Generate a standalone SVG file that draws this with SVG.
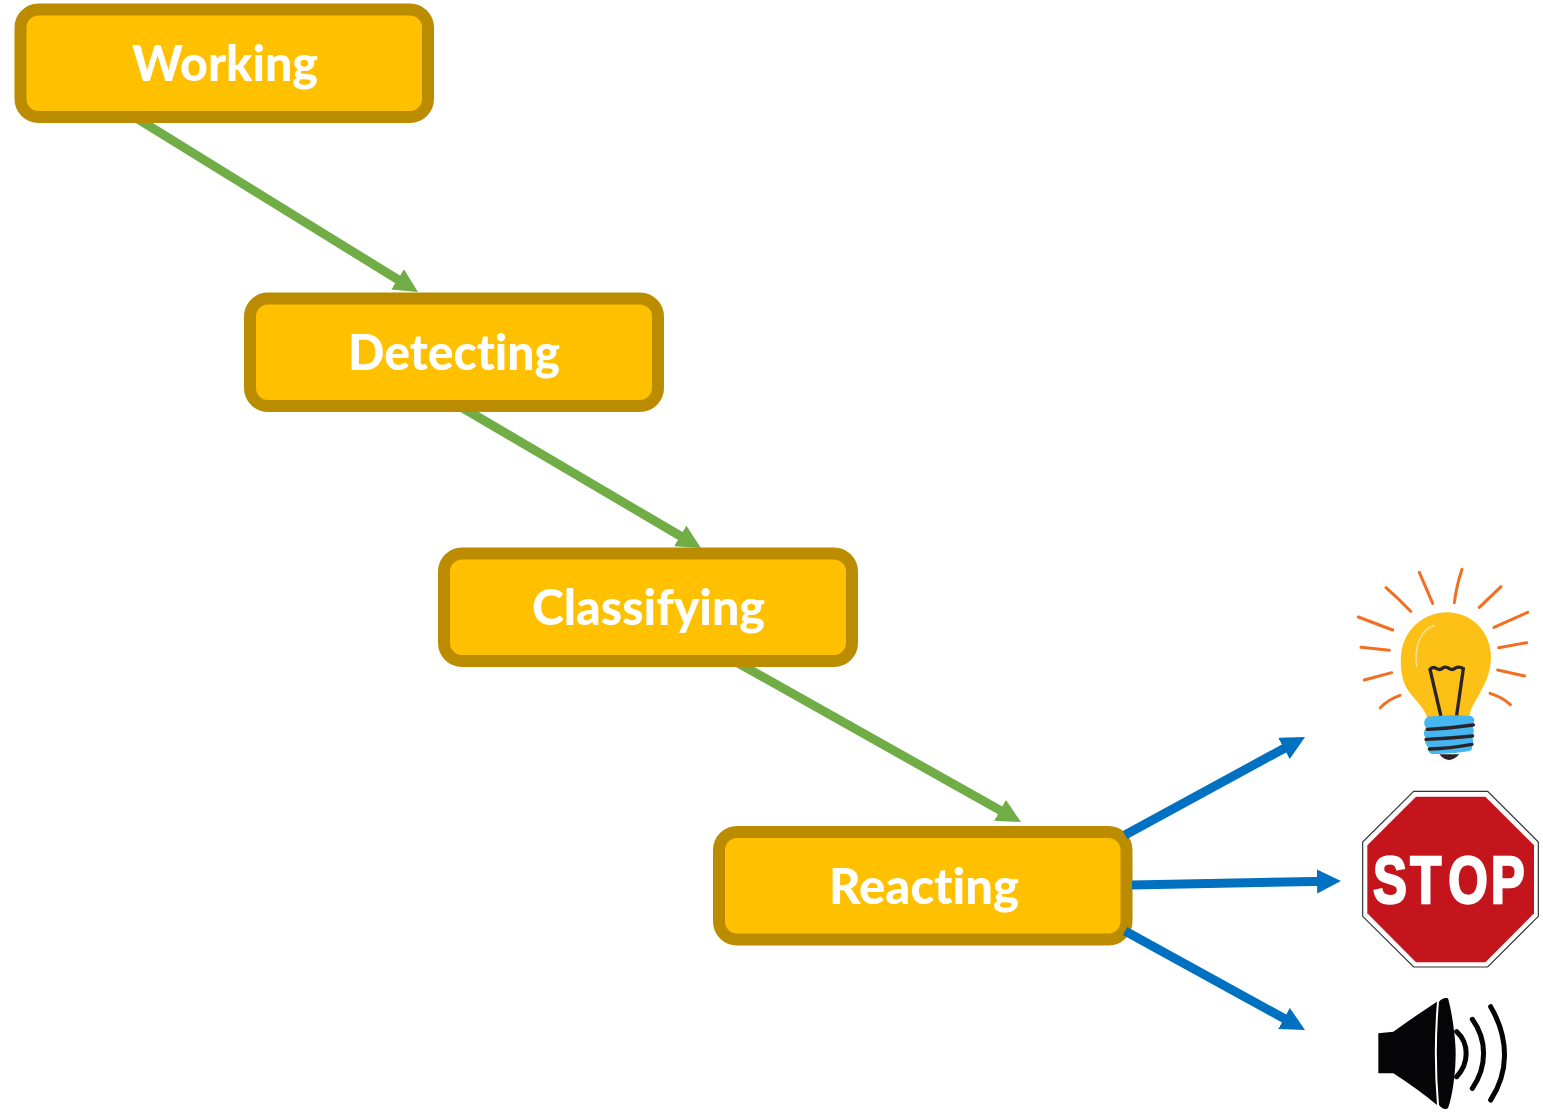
<svg xmlns="http://www.w3.org/2000/svg" width="1543" height="1112" viewBox="0 0 1543 1112">
<style>
.box{fill:#ffc000;stroke:#bc8c00;stroke-width:12}
.lbl{font-family:"Lato","Open Sans",sans-serif;font-weight:900;font-size:49px;fill:#fff;text-anchor:middle;font-variant-ligatures:none}
.g{fill:none;stroke:#70ad47;stroke-width:9;marker-end:url(#gh)}
.b{fill:none;stroke:#0070c0;stroke-width:9;marker-end:url(#bh)}
.ray{fill:none;stroke:#f26f21;stroke-width:9;stroke-linecap:round}
.dark{fill:none;stroke:#2b2326;stroke-linecap:round}
.wave{fill:none;stroke:#050507;stroke-width:15;stroke-linecap:round}
</style>
<defs>
<marker id="gh" markerUnits="userSpaceOnUse" markerWidth="26" markerHeight="26" refX="12" refY="12" orient="auto"><path d="M0,0L24,12L0,24Z" fill="#70ad47"/></marker>
<marker id="bh" markerUnits="userSpaceOnUse" markerWidth="26" markerHeight="26" refX="12" refY="12" orient="auto"><path d="M0,0L24,12L0,24Z" fill="#0070c0"/></marker>
<clipPath id="gaps"><rect x="0" y="123" width="1543" height="169"/><rect x="0" y="412" width="1543" height="136"/><rect x="0" y="667" width="1543" height="159"/></clipPath>
</defs>
<rect width="1543" height="1112" fill="#fff"/>
<g id="node-working"><rect class="box" x="20.500" y="9.500" width="407.500" height="107.500" rx="18"/><text class="lbl" x="225" y="81" textLength="186" lengthAdjust="spacingAndGlyphs">Working</text></g>
<g id="node-detecting"><rect class="box" x="250" y="298.500" width="408" height="107.500" rx="18"/><text class="lbl" x="454" y="370" textLength="212" lengthAdjust="spacingAndGlyphs">Detecting</text></g>
<g id="node-classifying"><rect class="box" x="444" y="553.500" width="408" height="107.500" rx="18"/><text class="lbl" x="648.500" y="625" textLength="233" lengthAdjust="spacingAndGlyphs">Classifying</text></g>
<g id="node-reacting"><rect class="box" x="719" y="832" width="407.500" height="107.500" rx="18"/><text class="lbl" x="924" y="904" textLength="190" lengthAdjust="spacingAndGlyphs">Reacting</text></g>
<g id="connectors">
<g clip-path="url(#gaps)">
<path class="g" d="M133,116L407.800,285.700"/>
<path class="g" d="M456,404L690.600,542"/>
<path class="g" d="M731,659L1010.500,816.200"/>
</g>
<path class="b" d="M1125,835L1294.500,742.700"/>
<path class="b" d="M1132,885L1329,881.200"/>
<path class="b" d="M1125,931L1294.500,1024.200"/>
</g>
<g id="icon-bulb" transform="translate(1340,560) scale(.33333)">
<path class="ray" d="M238,37L278,130M366,28Q350,75 343,128M138,83Q175,115 212,154M483,80L418,142M55,171L158,210M563,157L462,202M63,262L148,271M560,248L476,263M73,360L155,338M554,348L473,330M121,443Q145,418 180,406M511,434Q485,410 450,400"/>
<path d="M262,472C250,440 225,420 205,392C185,365 180,320 183,285C192,200 260,157 320,157C395,157 452,215 453,290C453,345 430,380 408,420C395,440 390,455 388,472Z" fill="#fcc016"/>
<path d="M285,195C240,210 222,260 230,320" fill="none" stroke="#fde08a" stroke-width="5"/>
<path class="dark" style="stroke-width:10" d="M302,465L270,328Q280,318 290,326Q300,332 308,324Q318,318 328,326Q338,332 346,324Q358,318 370,326L350,465"/>
<path d="M298,583H358Q342,600 327,600Q312,600 298,583Z" fill="#2b2326"/>
<path d="M262,470Q330,462 395,468Q408,478 400,490L398,500Q406,518 395,530Q405,545 395,555Q400,572 385,574Q330,584 275,582Q262,578 268,565Q250,550 258,535Q245,518 258,503Q245,485 262,470Z" fill="#45b6f0"/>
<path class="dark" style="stroke-width:10" d="M262,508Q330,505 400,495M258,538Q330,535 398,528M268,567Q330,565 396,553"/>
</g>
<g id="icon-stop" transform="translate(1340,780) scale(.33333)">
<path d="M221,34H443L595,186V409L443,561H221L68,409V186Z" fill="#fff" stroke="#333" stroke-width="3.500"/>
<path d="M228,50H436L582,196V400L436,547H228L82,400V196Z" fill="#c4151c"/>
</g>
<text id="stop-text" transform="translate(1373,903) scale(.76,1)" x="0 49 99 155" y="0" font-family="'Liberation Sans',Arial,sans-serif" font-weight="700" font-size="67" fill="#fff" stroke="#fff" stroke-width="2.500">STOP</text>
<g id="icon-speaker" transform="translate(1340,780) scale(.33333)">
<path d="M115,760L160,755Q230,705 291,665Q278,820 291,975Q230,925 160,880L115,880Z" fill="#050507"/>
<path d="M297,665Q310,650 324,655C337,700 347,780 347,820C347,880 337,950 324,985Q310,992 297,975Q284,820 297,665Z" fill="#050507"/>
<path class="wave" d="M350,755C388,790 388,850 350,890M397,718C442,780 442,860 397,925M452,680C510,780 505,880 452,960"/>
</g>
</svg>
